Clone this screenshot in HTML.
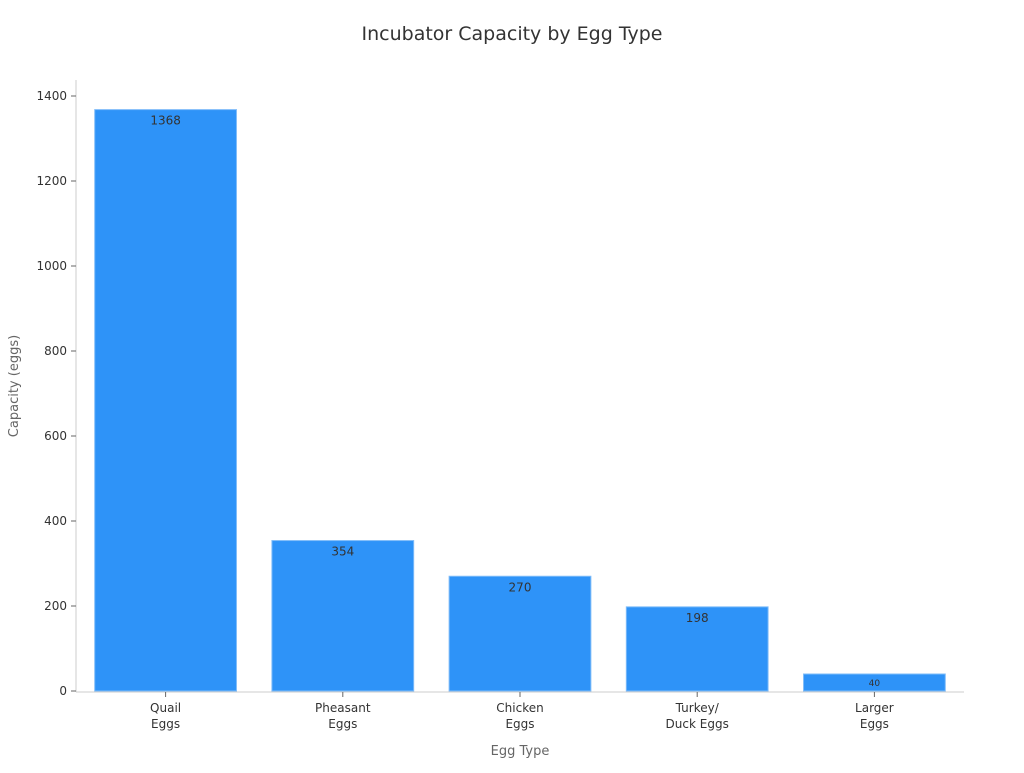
<!DOCTYPE html>
<html><head><meta charset="utf-8"><style>
body{margin:0;background:#fff;}
svg text{font-family:"DejaVu Sans","Liberation Sans",sans-serif;}
</style></head><body>
<svg id="chart" width="1024" height="768" xmlns="http://www.w3.org/2000/svg">
<text x="512" y="40" text-anchor="middle" font-size="19" fill="#333">Incubator Capacity by Egg Type</text>
<text transform="translate(18,386) rotate(-90)" text-anchor="middle" font-size="13" fill="#666">Capacity (eggs)</text>
<text x="520" y="755" text-anchor="middle" font-size="13" fill="#666">Egg Type</text>
<g id="plot"></g>
</svg>
<script>
const categories = [["Quail","Eggs"],["Pheasant","Eggs"],["Chicken","Eggs"],["Turkey/","Duck Eggs"],["Larger","Eggs"]];
const values = [1368, 354, 270, 198, 40];
const yTicks = [0, 200, 400, 600, 800, 1000, 1200, 1400];
const NS = "http://www.w3.org/2000/svg";
const g = document.getElementById('plot');
const x0 = 77, x1 = 963, yBase = 691, yTop = 96, yMax = 1400;
const band = (x1 - x0) / categories.length;
function y(v){ return yBase - (v / yMax) * (yBase - yTop); }
function xc(i){ return x0 + band * (i + 0.5); }
function mk(tag, attrs){ const e = document.createElementNS(NS, tag); for (const k in attrs) e.setAttribute(k, attrs[k]); g.appendChild(e); return e; }
let ax = mk('line', {x1:76, y1:80, x2:76, y2:yBase+1, stroke:'#ccc'});


let bx = mk('line', {x1:76, y1:yBase+1, x2:964, y2:yBase+1, stroke:'#ccc'});


yTicks.forEach(t => {
  const tk = mk('line', {x1:71, x2:76, y1:y(t), y2:y(t), stroke:'#666'});
  
  
  const tx = mk('text', {x:67, y:y(t)+4, 'text-anchor':'end', 'font-size':12, fill:'#333'});
  tx.textContent = t;
  
  
});
categories.forEach((c, i) => {
  const w = band * 0.8;
  const r = mk('rect', {x:xc(i)-w/2, y:y(values[i]), width:w, height:yBase-y(values[i]), fill:'#2e93f8', stroke:'#7fbcf9', 'stroke-width':1});
  
  
  const small = values[i] < 100;
  const lb = mk('text', {x:xc(i), y:y(values[i]) + (small ? 12 : 15), 'text-anchor':'middle', 'font-size': small ? 9 : 12, fill:'#333'});
  lb.textContent = values[i];
  
  
  const tk = mk('line', {x1:xc(i), x2:xc(i), y1:yBase+1, y2:yBase+6, stroke:'#666'});
  
  
  c.forEach((line, j) => {
    const t = mk('text', {x:xc(i), y:712 + j*16, 'text-anchor':'middle', 'font-size':12, fill:'#333'});
    t.textContent = line;
    
    
  });
});
</script>
</body></html>
